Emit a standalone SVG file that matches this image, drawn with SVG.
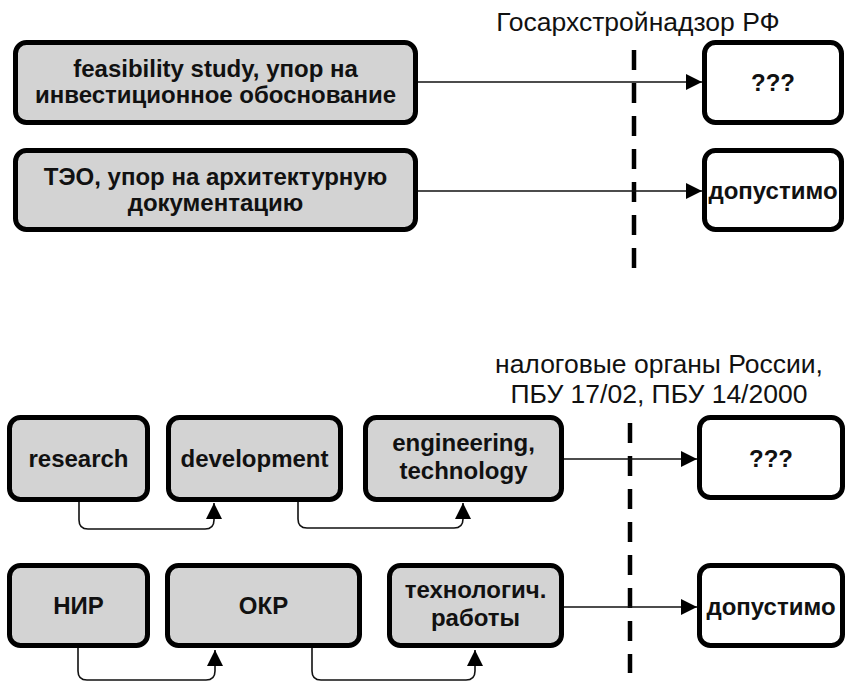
<svg xmlns="http://www.w3.org/2000/svg" width="846" height="683" viewBox="0 0 846 683">
<defs>
<marker id="ah" viewBox="0 0 16 16" refX="16" refY="8" markerWidth="16" markerHeight="16" markerUnits="userSpaceOnUse" orient="auto">
<path d="M0,0 L16,8 L0,16 Z" fill="#000"/>
</marker>
<style>
.box{fill:#d3d3d3;stroke:#000;stroke-width:5}
.wbox{fill:#fff;stroke:#000;stroke-width:5}
.bt{font-family:"Liberation Sans",Arial,sans-serif;font-weight:bold;font-size:24px;fill:#111;text-anchor:middle}
.lt{font-family:"Liberation Sans",Arial,sans-serif;font-size:26.5px;fill:#111;text-anchor:middle}
.conn{fill:none;stroke:#111;stroke-width:1.6}
.dash{fill:none;stroke:#000;stroke-width:4.5;stroke-dasharray:20 13}
</style>
</defs>
<rect width="846" height="683" fill="#fff"/>

<g id="labels">
<text class="lt" x="638" y="31">Госархстройнадзор РФ</text>
<text class="lt" x="659" y="373">налоговые органы России,</text>
<text class="lt" x="659" y="403">ПБУ 17/02, ПБУ 14/2000</text>
</g>

<g id="dividers">
<line class="dash" x1="634" y1="50" x2="634" y2="268"/>
<line class="dash" x1="630" y1="423" x2="630" y2="673"/>
</g>

<g id="connectors">
<line class="conn" x1="418" y1="82" x2="702" y2="82" marker-end="url(#ah)"/>
<line class="conn" x1="418" y1="191" x2="702" y2="191" marker-end="url(#ah)"/>
<line class="conn" x1="564" y1="459" x2="697" y2="459" marker-end="url(#ah)"/>
<line class="conn" x1="564" y1="607" x2="697" y2="607" marker-end="url(#ah)"/>
<path class="conn" d="M79,502 V520 Q79,529 88,529 H205 Q214,529 214,520 V503" marker-end="url(#ah)"/>
<path class="conn" d="M298,502 V519 Q298,528 307,528 H454 Q463,528 463,519 V503" marker-end="url(#ah)"/>
<path class="conn" d="M78,648 V671 Q78,680 87,680 H206 Q215,680 215,671 V650" marker-end="url(#ah)"/>
<path class="conn" d="M312,648 V671 Q312,680 321,680 H466 Q475,680 475,671 V650" marker-end="url(#ah)"/>
</g>

<g id="n-feasibility">
<rect class="box" x="15.5" y="42.5" width="400" height="80" rx="11"/>
<text class="bt" x="215.5" y="77">feasibility study, упор на</text>
<text class="bt" x="215.5" y="103">инвестиционное обоснование</text>
</g>
<g id="n-teo">
<rect class="box" x="15.5" y="150.5" width="400" height="79" rx="11"/>
<text class="bt" x="215.5" y="185">ТЭО, упор на архитектурную</text>
<text class="bt" x="215.5" y="211">документацию</text>
</g>
<g id="n-q1">
<rect class="wbox" x="704.5" y="42.5" width="137" height="80" rx="11"/>
<text class="bt" x="773" y="91">???</text>
</g>
<g id="n-ok1">
<rect class="wbox" x="704.5" y="150.5" width="137" height="79" rx="11"/>
<text class="bt" x="773" y="199">допустимо</text>
</g>

<g id="n-research">
<rect class="box" x="9.5" y="417.5" width="138" height="82" rx="11"/>
<text class="bt" x="78.5" y="467">research</text>
</g>
<g id="n-development">
<rect class="box" x="168.5" y="417.5" width="172" height="82" rx="11"/>
<text class="bt" x="254.5" y="467">development</text>
</g>
<g id="n-engineering">
<rect class="box" x="365.5" y="417.5" width="196" height="82" rx="11"/>
<text class="bt" x="463.5" y="451">engineering,</text>
<text class="bt" x="463.5" y="479">technology</text>
</g>
<g id="n-q2">
<rect class="wbox" x="699.5" y="417.5" width="143" height="80" rx="11"/>
<text class="bt" x="771" y="467">???</text>
</g>

<g id="n-nir">
<rect class="box" x="9.5" y="565.5" width="138" height="80" rx="11"/>
<text class="bt" x="78.5" y="614">НИР</text>
</g>
<g id="n-okr">
<rect class="box" x="167.5" y="565.5" width="192" height="80" rx="11"/>
<text class="bt" x="263.5" y="614">ОКР</text>
</g>
<g id="n-tech">
<rect class="box" x="389.5" y="565.5" width="172" height="80" rx="11"/>
<text class="bt" x="475.5" y="598">технологич.</text>
<text class="bt" x="475.5" y="626">работы</text>
</g>
<g id="n-ok2">
<rect class="wbox" x="699.5" y="565.5" width="143" height="80" rx="11"/>
<text class="bt" x="771" y="615">допустимо</text>
</g>
</svg>
